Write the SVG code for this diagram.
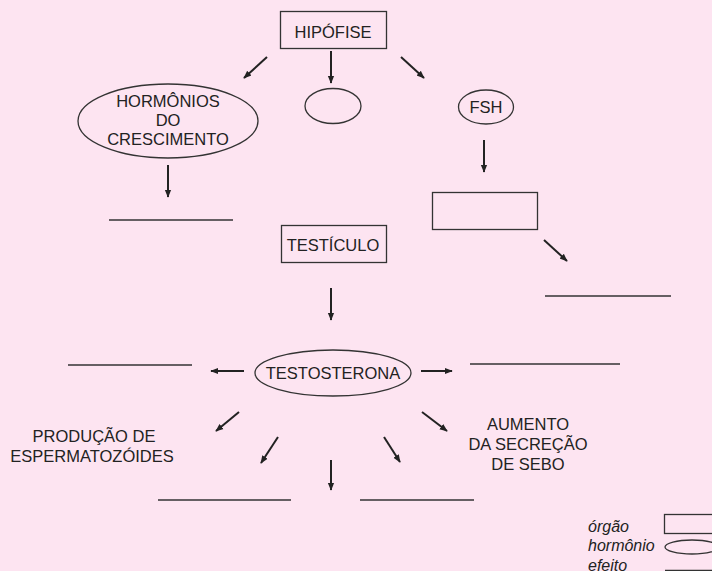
<svg xmlns="http://www.w3.org/2000/svg" width="712" height="571" viewBox="0 0 712 571">
<defs>
<marker id="ah" viewBox="0 0 10 10" refX="9" refY="5" markerWidth="4" markerHeight="4" orient="auto" markerUnits="strokeWidth">
<path d="M0,1 L10,5 L0,9 z" fill="#222"/>
</marker>
<style>
text{font-family:"Liberation Sans",Arial,sans-serif;font-size:16.5px;fill:#222;text-anchor:middle}
.n{fill:none;stroke:#333;stroke-width:1.3}
.a{stroke:#222;stroke-width:2;fill:none;marker-end:url(#ah)}
.b{stroke:#333;stroke-width:1.3}
.lg{font-style:italic;text-anchor:start;font-size:16px}
</style>
</defs>
<rect width="712" height="571" fill="#fde4f1"/>
<g id="hipofise"><rect class="n" x="280.5" y="11.5" width="106" height="37"/><text x="333" y="38">HIPÓFISE</text></g>
<g id="hormonios"><ellipse class="n" cx="168" cy="121" rx="90" ry="37"/><text x="168" y="107">HORMÔNIOS</text><text x="168" y="126">DO</text><text x="168" y="145">CRESCIMENTO</text></g>
<g id="hormonio-vazio"><ellipse class="n" cx="333" cy="106" rx="28" ry="17.5"/></g>
<g id="fsh"><ellipse class="n" cx="486" cy="107" rx="27.5" ry="17"/><text x="486" y="113">FSH</text></g>
<g id="orgao-vazio"><rect class="n" x="432.5" y="192.5" width="105" height="37"/></g>
<g id="testiculo"><rect class="n" x="281.5" y="225.5" width="105" height="37"/><text x="333" y="251">TESTÍCULO</text></g>
<g id="testosterona"><ellipse class="n" cx="333" cy="373" rx="78" ry="23"/><text x="333" y="379">TESTOSTERONA</text></g>
<g id="producao"><text x="94" y="442">PRODUÇÃO DE</text><text x="92" y="462">ESPERMATOZÓIDES</text></g>
<g id="aumento"><text x="528" y="430">AUMENTO</text><text x="528" y="450">DA SECREÇÃO</text><text x="528" y="470">DE SEBO</text></g>
<g id="efeitos">
<line class="b" x1="109" y1="220" x2="233" y2="220"/>
<line class="b" x1="545" y1="296" x2="671" y2="296"/>
<line class="b" x1="68" y1="365" x2="192" y2="365"/>
<line class="b" x1="470" y1="364" x2="620" y2="364"/>
<line class="b" x1="158" y1="500" x2="291" y2="500"/>
<line class="b" x1="360" y1="500" x2="474" y2="500"/>
</g>
<g id="connectors">
<line class="a" x1="267" y1="57" x2="244" y2="78"/>
<line class="a" x1="331" y1="51" x2="331" y2="83"/>
<line class="a" x1="401" y1="57" x2="424" y2="78"/>
<line class="a" x1="168" y1="165" x2="168" y2="197"/>
<line class="a" x1="484" y1="140" x2="484" y2="172"/>
<line class="a" x1="544" y1="240" x2="567" y2="261"/>
<line class="a" x1="331" y1="288" x2="331" y2="320"/>
<line class="a" x1="244" y1="371" x2="211" y2="371"/>
<line class="a" x1="421" y1="371" x2="452" y2="371"/>
<line class="a" x1="239" y1="412" x2="216" y2="431"/>
<line class="a" x1="278" y1="437" x2="261" y2="463"/>
<line class="a" x1="331" y1="460" x2="331" y2="490"/>
<line class="a" x1="384" y1="437" x2="400" y2="462"/>
<line class="a" x1="422" y1="412" x2="447" y2="431"/>
</g>
<g id="legenda">
<text class="lg" x="588" y="532">órgão</text>
<text class="lg" x="588" y="551">hormônio</text>
<text class="lg" x="588" y="571">efeito</text>
<rect class="n" x="664.5" y="514.5" width="60" height="19"/>
<ellipse class="n" cx="692" cy="547" rx="27" ry="7"/>
<line class="b" x1="665" y1="570.5" x2="712" y2="570.5"/>
</g>
</svg>
